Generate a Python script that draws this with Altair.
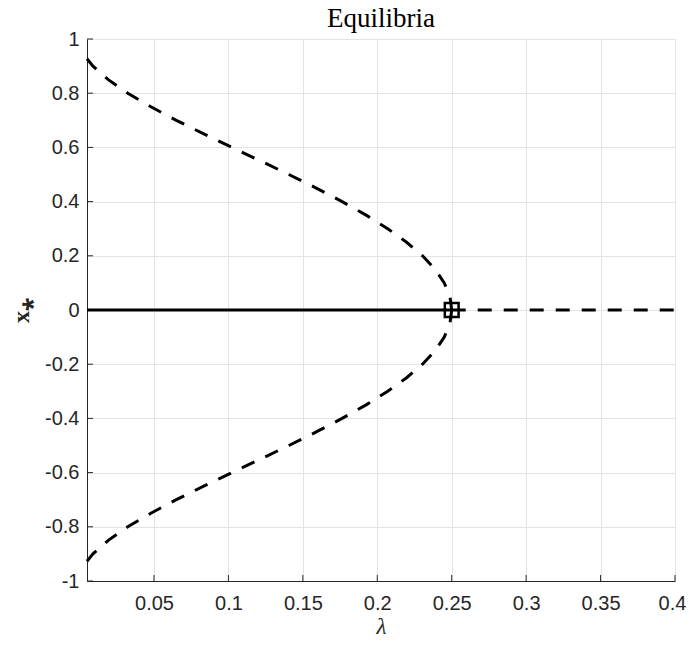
import altair as alt
import pandas as pd

# ---- data ----
# upper (unstable) branch of equilibria
lam_upper = [0.005, 0.009, 0.0193, 0.0324, 0.0479, 0.065, 0.0834, 0.1024, 0.1216, 0.1406,
             0.159, 0.1764, 0.1925, 0.207, 0.2197, 0.2304, 0.2389, 0.245, 0.2488, 0.25]
x_upper = [0.927, 0.9, 0.85, 0.8, 0.75, 0.7, 0.65, 0.6, 0.55, 0.5,
           0.45, 0.4, 0.35, 0.3, 0.25, 0.2, 0.15, 0.1, 0.05, 0.0]
# lower (unstable) branch of equilibria
lam_lower = [0.005, 0.009, 0.0193, 0.0324, 0.0479, 0.065, 0.0834, 0.1024, 0.1216, 0.1406,
             0.159, 0.1764, 0.1925, 0.207, 0.2197, 0.2304, 0.2389, 0.245, 0.2488, 0.25]
x_lower = [-0.927, -0.9, -0.85, -0.8, -0.75, -0.7, -0.65, -0.6, -0.55, -0.5,
           -0.45, -0.4, -0.35, -0.3, -0.25, -0.2, -0.15, -0.1, -0.05, 0.0]
# trivial branch: stable part and unstable part
lam_stable = [0.005, 0.25]
x_stable = [0.0, 0.0]
lam_unstable = [0.25, 0.4]
x_unstable = [0.0, 0.0]
# bifurcation point
lam_bif = [0.25]
x_bif = [0.0]

x_ticks = [0.05, 0.1, 0.15, 0.2, 0.25, 0.3, 0.35, 0.4]
y_ticks = [-1.0, -0.8, -0.6, -0.4, -0.2, 0.0, 0.2, 0.4, 0.6, 0.8, 1.0]
title_text = ["Equilibria"]

W, H = 588, 542


def frame(name, lam, xs):
    return pd.DataFrame({"branch": name, "lam": lam, "x": xs, "i": list(range(len(lam)))})


dashed_df = pd.concat([
    frame("upper", lam_upper, x_upper),
    frame("lower", lam_lower, x_lower),
    frame("trivial unstable", lam_unstable, x_unstable),
], ignore_index=True)
stable_df = frame("trivial stable", lam_stable, x_stable)
bif_df = pd.DataFrame({"lam": lam_bif, "x": x_bif})
xtick_df = pd.DataFrame({"lam": x_ticks})
ytick_df = pd.DataFrame({"x": y_ticks})
title_df = pd.DataFrame({"t": title_text})

xscale = alt.Scale(domain=[0.005, 0.4], nice=False, zero=False)
yscale = alt.Scale(domain=[-1, 1], nice=False, zero=False)

xaxis = alt.Axis(values=x_ticks, title="λ", grid=True, ticks=False, tickSize=0,
                 labelExpr="toString(round(datum.value*100)/100)",
                 labelOffset={"expr": "datum.value > 0.399 ? -3 : 0"},
                 labelPadding=12, titlePadding=2, titleFontStyle="italic",
                 titleFontWeight="normal", titleFontSize=23, labelFlush=False)
yaxis = alt.Axis(values=y_ticks, title="x⁎", grid=True, ticks=False, tickSize=0,
                 labelExpr="toString(round(datum.value*10)/10)",
                 labelPadding=8, titlePadding=11, titleFontWeight="bold",
                 titleFontSize=24, labelFlush=False)


def X():
    return alt.X("lam:Q", scale=xscale, axis=xaxis)


def Y():
    return alt.Y("x:Q", scale=yscale, axis=yaxis)


dashed = alt.Chart(dashed_df).mark_line(
    color="black", strokeWidth=3, strokeDash=[14, 12], strokeCap="butt"
).encode(x=X(), y=Y(), detail="branch:N", order="i:Q")

solid = alt.Chart(stable_df).mark_line(
    color="black", strokeWidth=3
).encode(x=X(), y=Y(), detail="branch:N", order="i:Q")

bif = alt.Chart(bif_df).mark_point(
    shape="square", size=190, filled=False, color="black", strokeWidth=2.5, opacity=1
).encode(x=X(), y=Y())

xticks = alt.Chart(xtick_df).mark_rule(color="#262626", strokeWidth=1).encode(
    x=X(), y=alt.value(H), y2=alt.value(H - 6)
)
yticks = alt.Chart(ytick_df).mark_rule(color="#262626", strokeWidth=1).encode(
    y=Y(), x=alt.value(0), x2=alt.value(6)
)

title = alt.Chart(title_df).mark_text(
    font="Liberation Serif", fontSize=27, color="black", baseline="alphabetic",
    align="center"
).encode(text="t:N", x=alt.value(W / 2), y=alt.value(-12))

chart = alt.layer(xticks, yticks, dashed, solid, bif, title).properties(
    width=W, height=H,
    autosize=alt.AutoSizeParams(type="none"),
    padding={"left": 79, "top": 31, "right": 11, "bottom": 56},
).configure_axis(
    domainColor="#262626", domainWidth=1,
    gridColor="#e3e3e3", gridWidth=1,
    labelFont="Liberation Sans", labelFontSize=20, labelColor="#262626",
    titleFont="Liberation Serif", titleColor="#262626",
).configure_view(stroke=None)

chart.save("out.html", embed_options={"renderer": "svg", "actions": False})
